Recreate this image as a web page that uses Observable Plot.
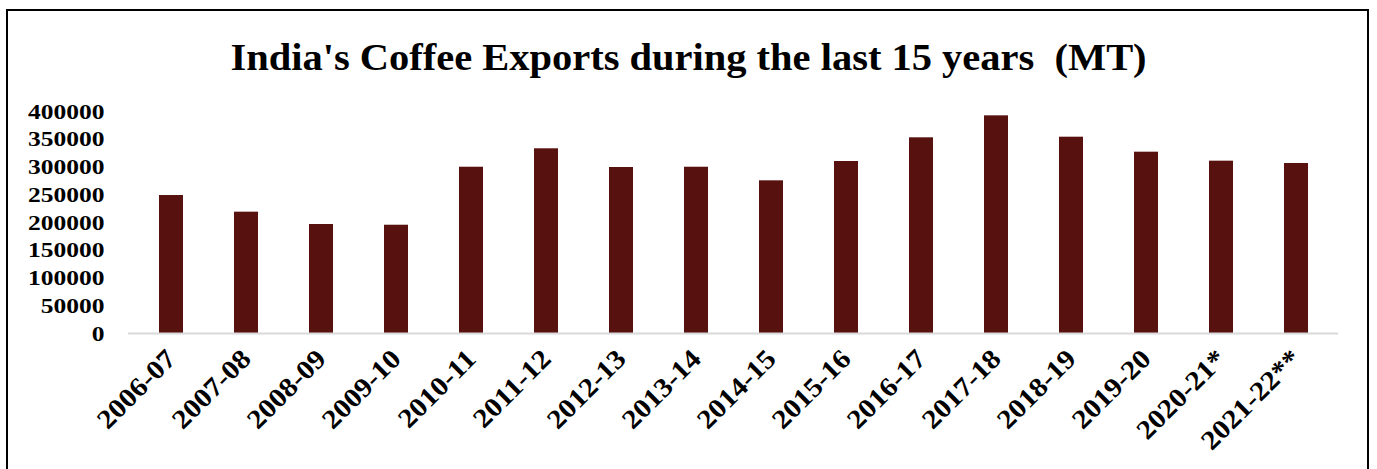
<!DOCTYPE html>
<html>
<head>
<meta charset="utf-8">
<script src="https://cdn.jsdelivr.net/npm/d3@7"></script>
<script src="https://cdn.jsdelivr.net/npm/@observablehq/plot@0.6"></script>
<style>
  html, body { margin: 0; padding: 0; background: #fff; overflow: hidden; width: 1377px; height: 469px; }
  #wrap { position: relative; width: 1377px; height: 469px; }
  #frame { position: absolute; left: 6px; top: 9px; width: 1363px; height: 520px; border: 2px solid #000; box-sizing: border-box; }
  #title { position: absolute; left: 0; width: 1377px; top: 35px; text-align: center; font-family: "Liberation Serif", "Times New Roman", serif; font-weight: bold; font-size: 38px; line-height: 44px; color: #000; white-space: pre; transform: scaleX(1.065); transform-origin: 688px 0; }
  #chart { position: absolute; left: 0; top: 0; }
</style>
</head>
<body>
<div id="wrap">
  <div id="frame"></div>
  <div id="chart"></div>
  <div id="title">India's Coffee Exports during the last 15 years  (MT)</div>
</div>
<script>
const years = ["2006-07","2007-08","2008-09","2009-10","2010-11","2011-12","2012-13","2013-14","2014-15","2015-16","2016-17","2017-18","2018-19","2019-20","2020-21*","2021-22**"];
const exportsMT = [248600, 218600, 196400, 195100, 299600, 332800, 299100, 299600, 275100, 309900, 352600, 392200, 353700, 326700, 310500, 306300];
const yTicks = [0, 50000, 100000, 150000, 200000, 250000, 300000, 350000, 400000];

const data = years.map((y, i) => ({year: y, value: exportsMT[i]}));

const chart = Plot.plot({
  width: 1377,
  height: 469,
  marginTop: 111,
  marginBottom: 136,
  marginLeft: 128,
  marginRight: 39,
  style: {fontFamily: "'Liberation Serif', 'Times New Roman', serif", fontWeight: "bold", fontSize: "20px", color: "#000", background: "transparent"},
  x: {domain: years, paddingInner: 0.68, paddingOuter: 0.34, label: null},
  y: {domain: [0, 400000], label: null},
  marks: [
    Plot.barY(data, {x: "year", y: "value", fill: "#57110f"}),
    Plot.ruleY([0], {stroke: "#d9d9d9", strokeWidth: 2}),
    Plot.axisY({ticks: yTicks, tickFormat: d => String(d), tickSize: 0, tickPadding: 24, fontSize: 22, label: null}),
    Plot.axisX({tickSize: 0, tickPadding: 21, tickRotate: -45, fontSize: 27, label: null})
  ]
});
// horizontal stretch of the label glyphs to match the reference's wide type
d3.select(chart).selectAll('g[aria-label="y-axis tick label"] text').each(function() {
  const t = this.getAttribute("transform") || "";
  this.setAttribute("transform", t + " scale(1.16,1)");
});
d3.select(chart).selectAll('g[aria-label="x-axis tick label"] text').each(function() {
  const t = this.getAttribute("transform") || "";
  this.setAttribute("transform", t + " scale(1.1,1)");
});
document.getElementById("chart").appendChild(chart);
</script>
</body>
</html>
